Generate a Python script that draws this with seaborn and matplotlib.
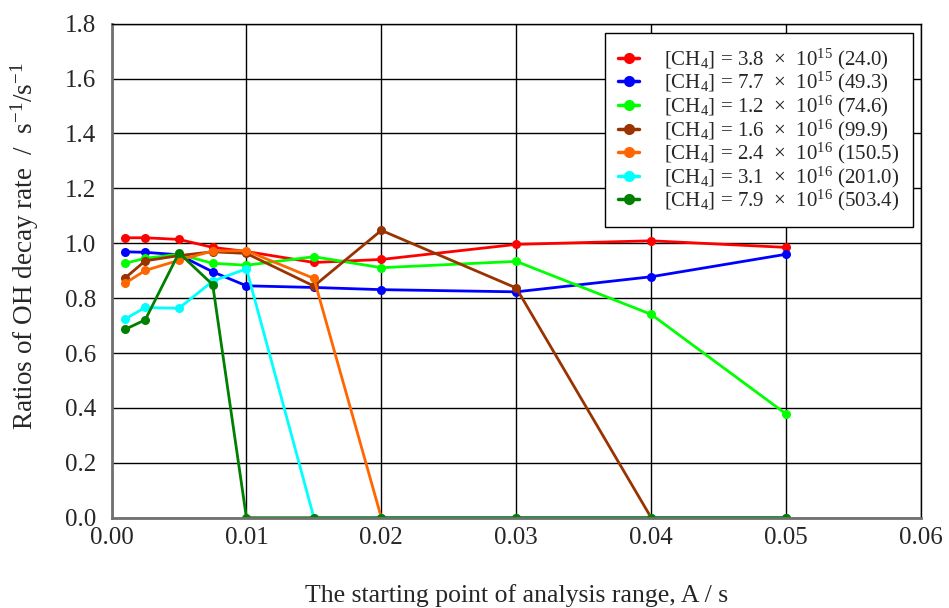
import matplotlib
matplotlib.use("Agg")
import matplotlib.pyplot as plt
import seaborn as sns
import pandas as pd
import numpy as np

x_vals = [0.001, 0.0025, 0.005, 0.0075, 0.01, 0.015, 0.02, 0.03, 0.04, 0.05]

s_24_0 = [1.02, 1.02, 1.014, 0.985, 0.97, 0.93, 0.941, 0.996, 1.009, 0.985]
s_49_3 = [0.969, 0.967, 0.958, 0.896, 0.845, 0.839, 0.831, 0.823, 0.878, 0.960]
s_74_6 = [0.927, 0.945, 0.96, 0.927, 0.920, 0.951, 0.911, 0.934, 0.741, 0.378]
s_99_9 = [0.873, 0.936, 0.955, 0.969, 0.963, 0.844, 1.047, 0.837, 0.0, 0.0]
s_150_5 = [0.854, 0.901, 0.938, 0.972, 0.973, 0.872, 0.0, 0.0, 0.0, 0.0]
s_201_0 = [0.724, 0.766, 0.763, 0.862, 0.907, 0.0, 0.0, 0.0, 0.0, 0.0]
s_503_4 = [0.686, 0.721, 0.965, 0.849, 0.0, 0.0, 0.0, 0.0, 0.0, 0.0]

labels = [
    "[CH$_4$] = 3.8  \u00d7  10$^{15}$ (24.0)",
    "[CH$_4$] = 7.7  \u00d7  10$^{15}$ (49.3)",
    "[CH$_4$] = 1.2  \u00d7  10$^{16}$ (74.6)",
    "[CH$_4$] = 1.6  \u00d7  10$^{16}$ (99.9)",
    "[CH$_4$] = 2.4  \u00d7  10$^{16}$ (150.5)",
    "[CH$_4$] = 3.1  \u00d7  10$^{16}$ (201.0)",
    "[CH$_4$] = 7.9  \u00d7  10$^{16}$ (503.4)",
]
series = [s_24_0, s_49_3, s_74_6, s_99_9, s_150_5, s_201_0, s_503_4]
colors = ["#FF0000", "#0000FF", "#00FF00", "#993300", "#FF6600", "#00FFFF", "#007F00"]

xticks = [0.00, 0.01, 0.02, 0.03, 0.04, 0.05, 0.06]
yticks = [0.0, 0.2, 0.4, 0.6, 0.8, 1.0, 1.2, 1.4, 1.6, 1.8]

rows = []
for lab, s in zip(labels, series):
    for xv, yv in zip(x_vals, s):
        rows.append({"x": xv, "y": yv, "series": lab})
df = pd.DataFrame(rows)

sns.set_style("white")
plt.rcParams["font.family"] = ["Liberation Serif", "DejaVu Serif"]
plt.rcParams["mathtext.fontset"] = "custom"
plt.rcParams["mathtext.rm"] = "Liberation Serif"
plt.rcParams["mathtext.it"] = "Liberation Serif:italic"
plt.rcParams["mathtext.bf"] = "Liberation Serif:bold"

fig = plt.figure(figsize=(9.49, 6.08), dpi=100)
ax = fig.add_axes([0.1175, 0.1485, 0.853, 0.8125])

sns.lineplot(data=df, x="x", y="y", hue="series", hue_order=labels,
             palette=colors, marker="o", markersize=6.5, markeredgewidth=0,
             linewidth=2.0, ax=ax, legend=True, estimator=None, sort=False)

ax.set_xlim(0, 0.06)
ax.set_ylim(0, 1.8)
ax.set_xticks(xticks)
ax.set_yticks(yticks)
ax.set_xticklabels([f"{t:.2f}" for t in xticks], fontsize=18)
ax.set_yticklabels([f"{t:.1f}" for t in yticks], fontsize=18)
ax.tick_params(axis="x", length=0, pad=7)
ax.tick_params(axis="y", length=0, pad=11)
ax.grid(True, color="black", linewidth=1.0)
ax.set_axisbelow(True)

for side in ["top", "right"]:
    ax.spines[side].set_color("black")
    ax.spines[side].set_linewidth(1.0)
for side in ["left", "bottom"]:
    ax.spines[side].set_color("#707070")
    ax.spines[side].set_linewidth(2.0)

ax.set_xlabel("The starting point of analysis range, A / s", fontsize=18.5, labelpad=25)
ax.set_ylabel(r"Ratios of OH decay rate  /  s$^{-1}$/s$^{-1}$", fontsize=19.5)
ax.yaxis.set_label_coords(-0.087, 0.55)

handles, labs = ax.get_legend_handles_labels()
for h in handles:
    h.set_markersize(8)
    h.set_linewidth(2.5)
leg = ax.legend(handles, labs, loc="upper right", bbox_to_anchor=(0.99, 0.981),
                borderaxespad=0, fontsize=15, frameon=True, fancybox=False,
                edgecolor="black", framealpha=1, handlelength=1.0,
                labelspacing=-0.08, handletextpad=1.2, borderpad=0.65)
leg.get_frame().set_linewidth(1.0)

fig.savefig("out.png", dpi=100)
